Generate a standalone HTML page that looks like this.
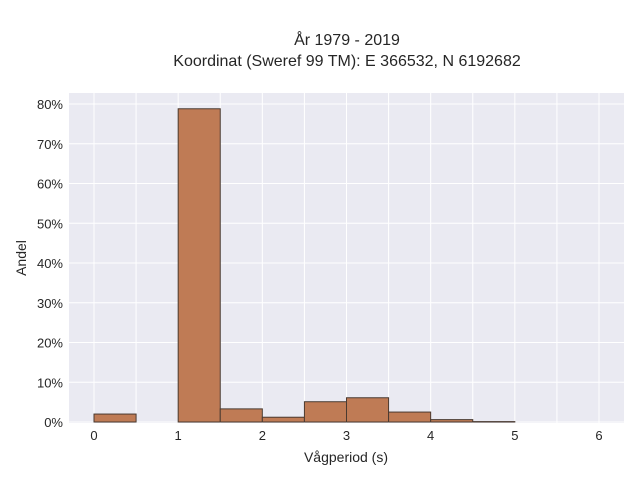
<!DOCTYPE html>
<html><head><meta charset="utf-8"><style>
body{margin:0;background:#fff;font-family:"Liberation Sans",sans-serif;}
svg text{font-family:"Liberation Sans",sans-serif;fill:#262626;}
</style></head><body>
<svg width="640" height="480" id="c">
<text x="347" y="45" text-anchor="middle" font-size="16">År 1979 - 2019</text>
<text x="347" y="66" text-anchor="middle" font-size="16">Koordinat (Sweref 99 TM): E 366532, N 6192682</text>
<rect x="69" y="93" width="555" height="330" fill="#eaeaf2"/>
<g id="grid"></g><g id="bars"></g><g id="ticks"></g>
<text x="346" y="462" text-anchor="middle" font-size="14">Vågperiod (s)</text>
<text transform="translate(26,258) rotate(-90)" text-anchor="middle" font-size="14">Andel</text>
</svg>
<script>
const binStarts=[0,1,1.5,2,2.5,3,3.5,4,4.5];
const shares=[2.0,78.8,3.3,1.2,5.1,6.1,2.5,0.6,0.1];
const xTicks=[0,1,2,3,4,5,6];
const yTicks=[0,10,20,30,40,50,60,70,80];
const binWidth=0.5;
const NS="http://www.w3.org/2000/svg";
const X=v=>94+v*(599-94)/6;
const Y=v=>422-v*(422-104)/80;
const g=document.getElementById('grid'),b=document.getElementById('bars'),t=document.getElementById('ticks');
function mk(tag,a,p){const e=document.createElementNS(NS,tag);for(const k in a)e.setAttribute(k,a[k]);p.appendChild(e);return e;}
for(let v=0;v<=6;v+=0.5){const l=mk('line',{x1:X(v),x2:X(v),y1:93,y2:423,stroke:'#fff','stroke-width':1},g);

}
yTicks.forEach(v=>{const l=mk('line',{x1:69,x2:624,y1:Y(v),y2:Y(v),stroke:'#fff','stroke-width':1},g);


const s=mk('text',{x:63,y:Y(v)+5,'text-anchor':'end','font-size':13},t);s.textContent=v+'%';

});
xTicks.forEach(v=>{const s=mk('text',{x:X(v),y:440,'text-anchor':'middle','font-size':13},t);s.textContent=v;

});
binStarts.forEach((s0,i)=>{const r=mk('rect',{x:X(s0),y:Y(shares[i]),width:X(s0+binWidth)-X(s0),height:Y(0)-Y(shares[i]),fill:'#bf7b55',stroke:'#4a3a30','stroke-width':1},b);

});
</script>
</body></html>
